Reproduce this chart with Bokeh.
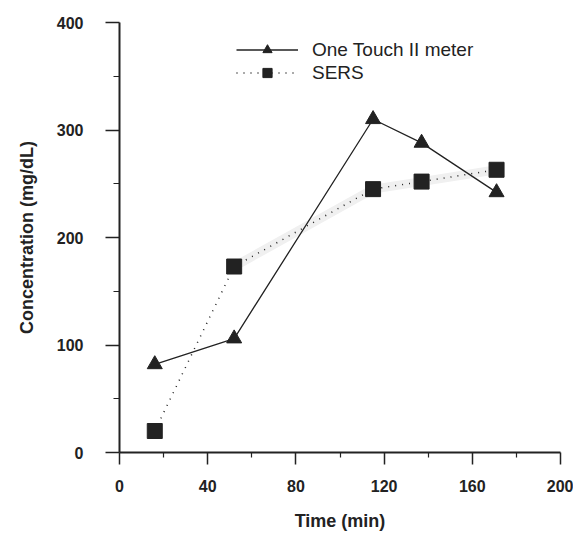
from bokeh.plotting import figure
from bokeh.models import Range1d, Legend, LegendItem, FixedTicker
from bokeh.embed import file_html
from bokeh.resources import INLINE

# Data
time_min = [16, 52, 115, 137, 171]
meter = [82, 106, 310, 288, 242]
sers = [20, 173, 245, 252, 263]

x_ticks = [0, 40, 80, 120, 160, 200]
x_minor = [20, 60, 100, 140, 180]
y_ticks = [0, 100, 200, 300, 400]
y_minor = [50, 150, 250, 350]

INK = "#222222"
FONT = "Liberation Sans"

p = figure(width=573, height=534, output_backend="svg", toolbar_location=None,
           x_range=Range1d(0, 200), y_range=Range1d(0, 400),
           min_border_left=119, min_border_right=13, min_border_top=22, min_border_bottom=82)
p.outline_line_color = None
p.grid.visible = False
p.background_fill_color = "white"
p.border_fill_color = "white"

# faint scanning smear along the SERS curve
p.line(time_min[1:], sers[1:], line_color="#f0f0f0", line_width=9)

l1 = p.line(time_min, meter, line_color=INK, line_width=1.3)
m1 = p.scatter(time_min, meter, marker="triangle", size=15, fill_color=INK, line_color=INK)
l2 = p.line(time_min, sers, line_color=INK, line_width=1.5, line_dash="1 6")
m2 = p.scatter(time_min, sers, marker="square", size=15, fill_color=INK, line_color=INK)

legend = Legend(items=[LegendItem(label="One Touch II meter", renderers=[l1, m1]),
                       LegendItem(label="SERS", renderers=[l2, m2])],
                location=(117, 368), glyph_width=62, glyph_height=23, label_height=23,
                spacing=0, label_standoff=14, padding=0, margin=0,
                border_line_color=None, background_fill_alpha=0,
                label_text_font=FONT, label_text_font_size="19px", label_text_color=INK)
p.add_layout(legend)

for ax in (p.xaxis[0], p.yaxis[0]):
    ax.axis_line_color = INK
    ax.axis_line_width = 2
    ax.major_tick_line_color = INK
    ax.major_tick_line_width = 1.5
    ax.minor_tick_line_color = INK
    ax.minor_tick_line_width = 1.2
    ax.major_tick_in = 0
    ax.minor_tick_in = 0
    ax.major_label_text_font = FONT
    ax.major_label_text_font_style = "bold"
    ax.major_label_text_font_size = "16px"
    ax.major_label_text_color = INK
    ax.axis_label_text_font = FONT
    ax.axis_label_text_font_style = "bold"
    ax.axis_label_text_font_size = "18px"
    ax.axis_label_text_color = INK

p.xaxis.ticker = FixedTicker(ticks=x_ticks, minor_ticks=x_minor)
p.yaxis.ticker = FixedTicker(ticks=y_ticks, minor_ticks=y_minor)
p.xaxis.major_tick_out = 12
p.xaxis.minor_tick_out = 5
p.yaxis.major_tick_out = 14
p.yaxis.minor_tick_out = 6
p.xaxis.major_label_standoff = 15
p.yaxis.major_label_standoff = 22
p.xaxis.axis_label = "Time (min)"
p.yaxis.axis_label = "Concentration (mg/dL)"
p.xaxis.axis_label_standoff = 16
p.yaxis.axis_label_standoff = 17

open("out.html", "w").write(file_html(p, INLINE))
